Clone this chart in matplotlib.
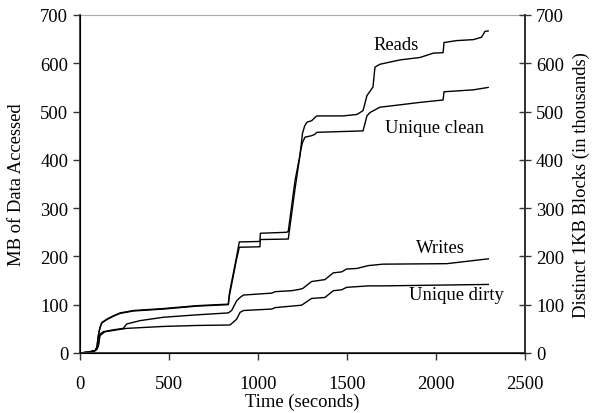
import matplotlib
matplotlib.use("Agg")
import matplotlib.pyplot as plt

plt.rcParams['font.family'] = ['Liberation Serif', 'DejaVu Serif']
plt.rcParams['font.size'] = 13.4

reads_t = [0, 50, 85, 95, 103, 112, 122, 150, 187, 225, 300, 468, 655, 824, 833, 840, 880, 895,
           1011, 1013, 1161, 1170, 1208, 1236, 1250, 1262, 1275, 1301, 1330, 1478, 1556, 1590,
           1612, 1646, 1657, 1685, 1798, 1910, 1985, 2040, 2045, 2117, 2210, 2256, 2275, 2293]
reads_y = [0, 2, 5, 12, 36, 52, 63, 70, 77, 83, 88, 92, 98, 101, 101, 125, 200, 230,
           231, 248, 250, 252, 357, 410, 455, 470, 478, 481, 491, 491, 494, 502,
           533, 551, 592, 598, 607, 612, 621, 622, 643, 647, 649, 654, 666, 667]

clean_t = [0, 50, 85, 95, 103, 112, 122, 150, 187, 225, 300, 468, 655, 824, 833, 840, 880, 895,
           1011, 1013, 1170, 1208, 1240, 1250, 1264, 1301, 1320, 1330, 1590, 1612, 1629, 1685,
           1798, 1910, 2040, 2045, 2210, 2293]
clean_y = [0, 2, 5, 12, 36, 52, 62, 69, 76, 82, 87, 91, 97, 100, 100, 120, 195, 219,
           220, 235, 236, 340, 420, 436, 447, 450, 453, 457, 460, 491, 498, 509,
           514, 519, 524, 541, 545, 550]

writes_t = [0, 50, 85, 95, 103, 112, 131, 187, 243, 262, 337, 468, 655, 833, 852, 880, 899, 918,
            1077, 1096, 1189, 1236, 1253, 1301, 1376, 1423, 1470, 1498, 1554, 1620, 1702, 2060, 2294]
writes_y = [0, 2, 5, 8, 15, 39, 44, 48, 51, 60, 67, 74, 79, 83, 88, 108, 115, 120,
            124, 127, 129, 132, 134, 148, 152, 166, 168, 174, 175, 181, 184, 185, 195]

dirty_t = [0, 50, 85, 95, 103, 112, 140, 243, 262, 468, 655, 843, 880, 899, 918, 1077, 1096,
           1245, 1301, 1376, 1423, 1470, 1498, 1620, 1702, 2294]
dirty_y = [0, 2, 5, 8, 15, 36, 44, 50, 51, 55, 57, 58, 70, 84, 88, 91, 94,
           99, 113, 115, 129, 131, 136, 139, 139, 142]

labels = ["Reads", "Unique clean", "Writes", "Unique dirty"]
label_x = [1775, 1994, 2025, 2115]
label_y = [638, 468, 219, 122]

fig = plt.figure(figsize=(5.92, 4.14), dpi=100)
ax = fig.add_axes([80/592, 1-354/414, 445/592, 338/414])

for t, y in [(reads_t, reads_y), (clean_t, clean_y), (writes_t, writes_y), (dirty_t, dirty_y)]:
    ax.plot(t, y, color='black', lw=1.0)

for lab, x, y in zip(labels, label_x, label_y):
    ax.text(x, y, lab, ha='center', va='center', fontsize=13.4)

ax.set_xlim(0, 2500)
ax.set_ylim(0, 700)
ax.set_xticks(range(0, 2501, 500))
ax.set_yticks(range(0, 701, 100))
ax.set_xlabel("Time (seconds)", labelpad=0)
ax.set_ylabel("MB of Data Accessed", labelpad=11)
ax.tick_params(direction='out', length=5, width=1, color='#333333')
ax.tick_params(axis='x', pad=11)
ax.spines['top'].set_color('#aaaaaa')
for s in ['left', 'bottom', 'right']:
    ax.spines[s].set_color('#333333')
    ax.spines[s].set_linewidth(1.3)

ax2 = ax.twinx()
ax2.set_ylim(0, 700)
ax2.set_yticks(range(0, 701, 100))
ax2.tick_params(direction='inout', length=9, width=1, color='#333333')
ax2.set_ylabel("Distinct 1KB Blocks (in thousands)", labelpad=6)
ax2.spines['top'].set_visible(False)
ax2.spines['right'].set_color('#333333')
ax2.spines['right'].set_linewidth(1.3)

fig.savefig("out.png", dpi=100)
